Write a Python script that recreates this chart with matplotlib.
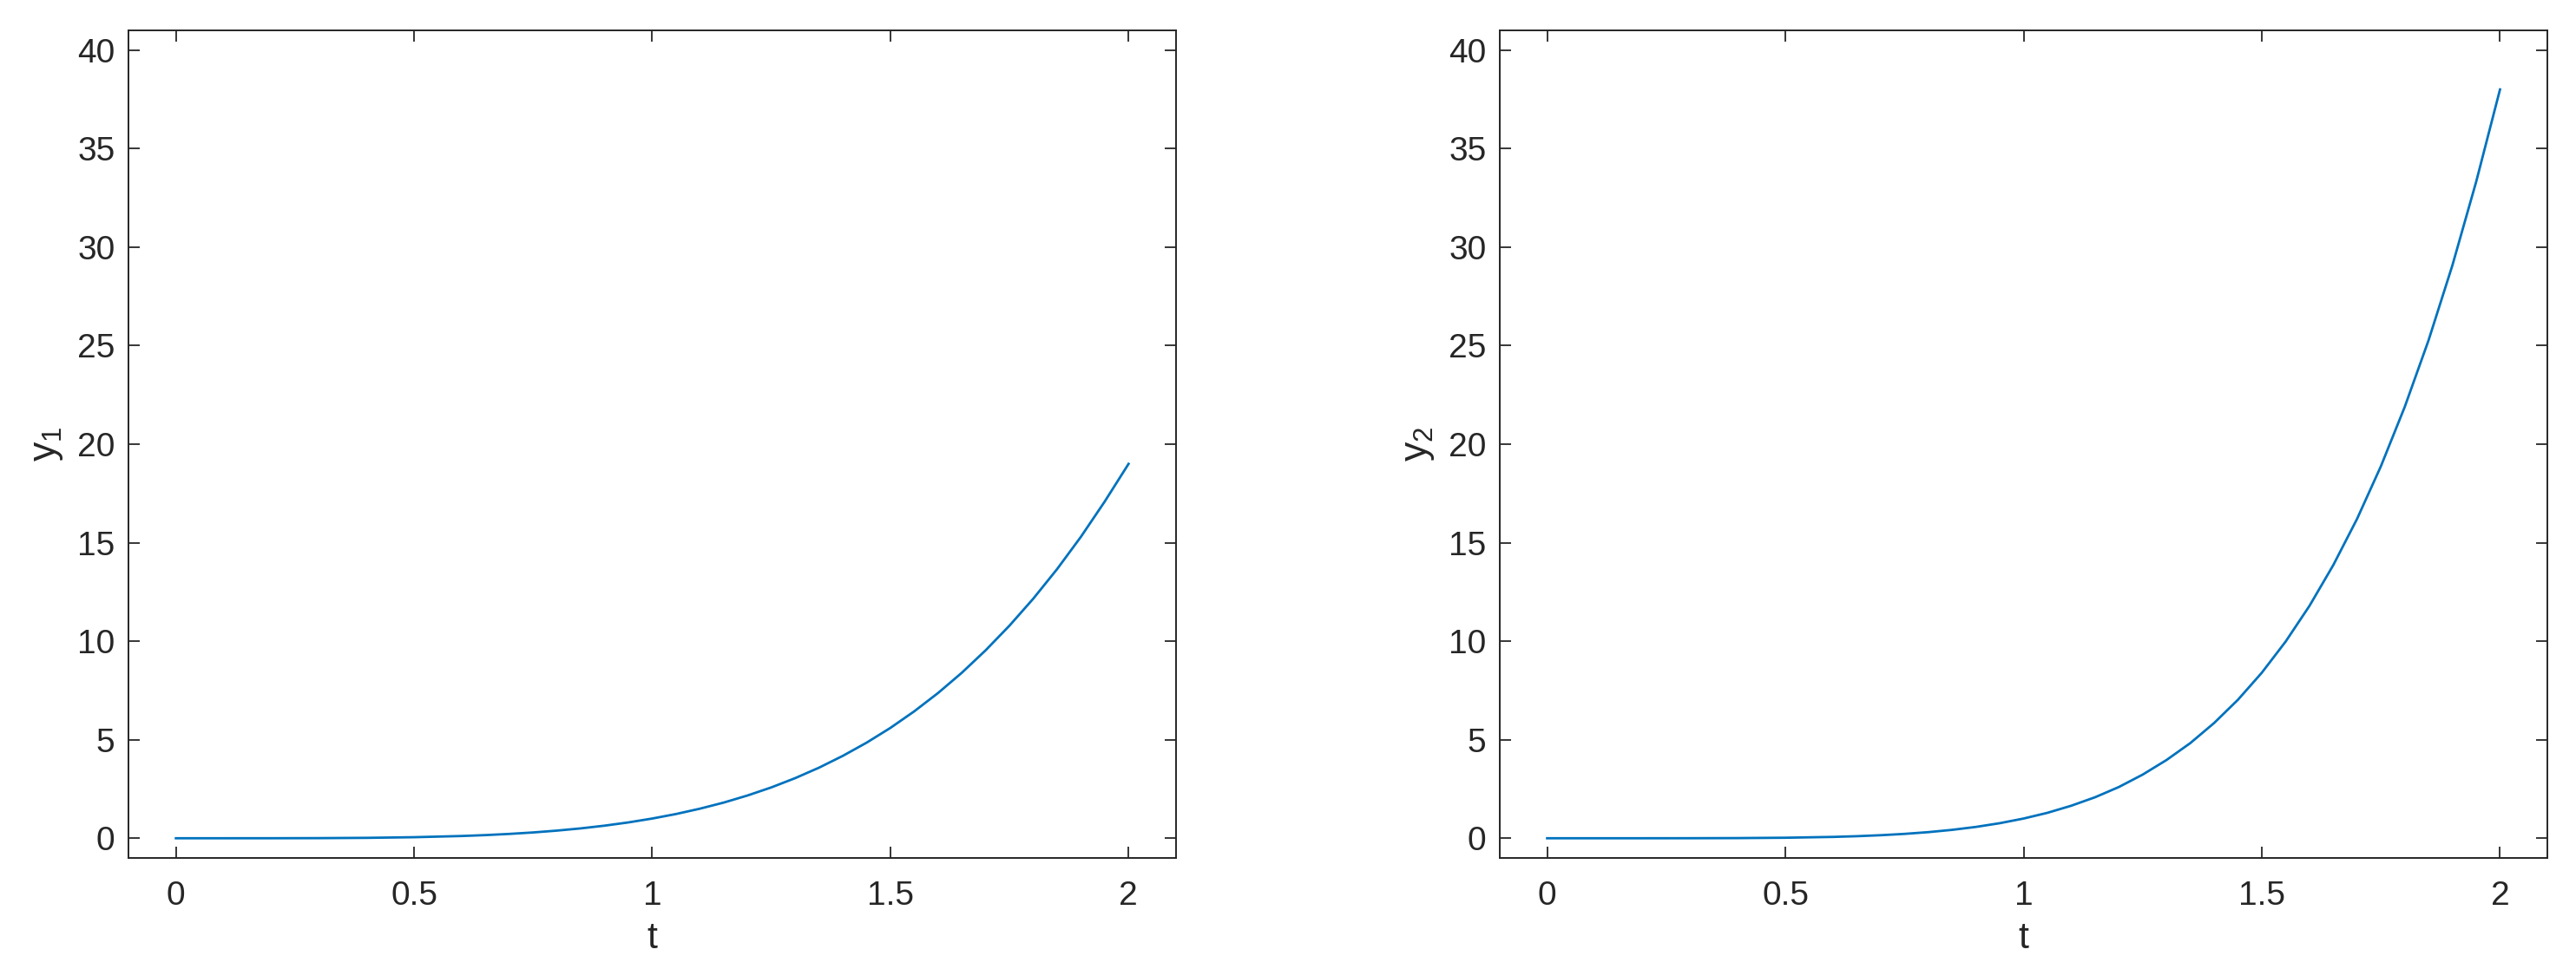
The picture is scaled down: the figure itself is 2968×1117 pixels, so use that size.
import matplotlib
matplotlib.use("Agg")
from matplotlib import pyplot as plt

# values
t = [0.0, 0.1, 0.2, 0.3, 0.4, 0.5, 0.6, 0.65, 0.7, 0.75, 0.8, 0.85, 0.9, 0.95,
     1.0, 1.05, 1.1, 1.15, 1.2, 1.25, 1.3, 1.35, 1.4, 1.45, 1.5, 1.55, 1.6,
     1.65, 1.7, 1.75, 1.8, 1.85, 1.9, 1.95, 2.0]
y1 = [0.0, 0.0, 0.001, 0.006, 0.02, 0.053, 0.114, 0.160, 0.220, 0.294, 0.388,
      0.501, 0.639, 0.804, 1.0, 1.23, 1.50, 1.81, 2.17, 2.58, 3.05, 3.58, 4.18,
      4.85, 5.60, 6.44, 7.37, 8.40, 9.54, 10.79, 12.16, 13.66, 15.30, 17.09, 19.0]
y2 = [0.0, 0.0, 0.0, 0.002, 0.008, 0.026, 0.068, 0.104, 0.154, 0.221, 0.310,
      0.426, 0.575, 0.764, 1.0, 1.29, 1.65, 2.08, 2.60, 3.23, 3.97, 4.83, 5.85,
      7.03, 8.40, 9.98, 11.79, 13.86, 16.21, 18.88, 21.89, 25.27, 29.07, 33.32, 38.0]

xticks = [0, 0.5, 1, 1.5, 2]
xticklabels = ["0", "0.5", "1", "1.5", "2"]
yticks = [0, 5, 10, 15, 20, 25, 30, 35, 40]

plt.rcParams['font.family'] = ['Liberation Sans', 'DejaVu Sans']
plt.rcParams['mathtext.fontset'] = 'custom'
plt.rcParams['mathtext.rm'] = 'Liberation Sans'

dark = '#262626'
fig = plt.figure(figsize=(29.68, 11.17), dpi=100)
ax1 = fig.add_axes([0.0498, 0.1146, 0.4068, 0.8541])
ax2 = fig.add_axes([0.5821, 0.1146, 0.4069, 0.8541])

for ax, y, lab in [(ax1, y1, r'$\mathregular{y_1}$'), (ax2, y2, r'$\mathregular{y_2}$')]:
    ax.plot(t, y, color='#0072BD', linewidth=2.0)
    ax.set_xlim(-0.1, 2.1)
    ax.set_ylim(-1, 41)
    ax.set_xticks(xticks)
    ax.set_xticklabels(xticklabels)
    ax.set_yticks(yticks)
    ax.tick_params(axis='both', direction='in', length=9.4, width=1.3,
                   color=dark, labelcolor=dark, labelsize=28, top=True, right=True)
    ax.tick_params(axis='x', pad=19)
    ax.tick_params(axis='y', pad=11)
    for s in ax.spines.values():
        s.set_color(dark)
        s.set_linewidth(1.4)
    ax.set_xlabel('t', fontsize=31, color=dark, labelpad=8)
    ax.set_ylabel(lab, fontsize=32, color=dark, labelpad=10)

plt.savefig('out.png', dpi=100)
